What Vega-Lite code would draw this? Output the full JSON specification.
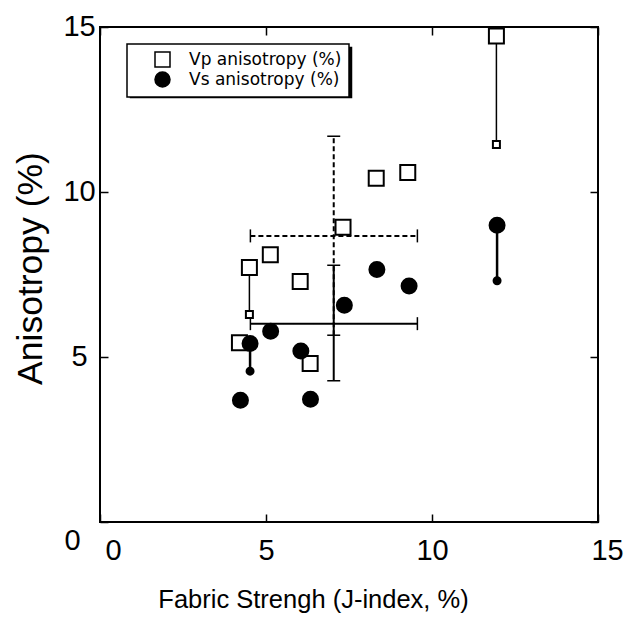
{
  "$schema": "https://vega.github.io/schema/vega-lite/v6.json",
  "width": 498,
  "height": 495,
  "autosize": {"type": "none"},
  "padding": {"left": 100, "top": 27, "right": 35, "bottom": 96},
  "background": "white",
  "datasets": {
    "points": [
      {"series": "Vp anisotropy (%)", "x": 4.20, "y": 5.43, "kind": "main"},
      {"series": "Vp anisotropy (%)", "x": 4.50, "y": 7.71, "kind": "main", "pair": "p1"},
      {"series": "Vp anisotropy (%)", "x": 4.50, "y": 6.29, "kind": "end", "pair": "p1"},
      {"series": "Vp anisotropy (%)", "x": 5.13, "y": 8.10, "kind": "main"},
      {"series": "Vp anisotropy (%)", "x": 6.03, "y": 7.29, "kind": "main"},
      {"series": "Vp anisotropy (%)", "x": 6.33, "y": 4.80, "kind": "main"},
      {"series": "Vp anisotropy (%)", "x": 7.32, "y": 8.93, "kind": "main"},
      {"series": "Vp anisotropy (%)", "x": 8.32, "y": 10.42, "kind": "main"},
      {"series": "Vp anisotropy (%)", "x": 9.27, "y": 10.59, "kind": "main"},
      {"series": "Vp anisotropy (%)", "x": 11.94, "y": 14.73, "kind": "main", "pair": "p2"},
      {"series": "Vp anisotropy (%)", "x": 11.94, "y": 11.44, "kind": "end", "pair": "p2"},
      {"series": "Vs anisotropy (%)", "x": 4.23, "y": 3.69, "kind": "main"},
      {"series": "Vs anisotropy (%)", "x": 4.52, "y": 5.41, "kind": "main", "pair": "s1"},
      {"series": "Vs anisotropy (%)", "x": 4.52, "y": 4.57, "kind": "end", "pair": "s1"},
      {"series": "Vs anisotropy (%)", "x": 5.14, "y": 5.78, "kind": "main"},
      {"series": "Vs anisotropy (%)", "x": 6.05, "y": 5.18, "kind": "main"},
      {"series": "Vs anisotropy (%)", "x": 6.34, "y": 3.72, "kind": "main"},
      {"series": "Vs anisotropy (%)", "x": 7.36, "y": 6.57, "kind": "main"},
      {"series": "Vs anisotropy (%)", "x": 8.34, "y": 7.65, "kind": "main"},
      {"series": "Vs anisotropy (%)", "x": 9.31, "y": 7.15, "kind": "main"},
      {"series": "Vs anisotropy (%)", "x": 11.96, "y": 8.99, "kind": "main", "pair": "s2"},
      {"series": "Vs anisotropy (%)", "x": 11.96, "y": 7.31, "kind": "end", "pair": "s2"}
    ],
    "bars": [
      {"style": "solid", "cx": 7.04, "cy": 6.01, "xlo": 4.53, "xhi": 9.56, "ylo": 4.28, "yhi": 7.78},
      {"style": "dashed", "cx": 7.04, "cy": 8.67, "xlo": 4.53, "xhi": 9.56, "ylo": 5.66, "yhi": 11.69}
    ]
  },
  "config": {
    "view": {"stroke": "black", "strokeWidth": 2},
    "axis": {
      "grid": false,
      "domain": false,
      "tickColor": "black",
      "tickWidth": 1.5,
      "tickSize": -8,
      "labelFlush": false,
      "labelColor": "black",
      "labelFont": "Liberation Sans",
      "labelFontSize": 29,
      "titleColor": "black",
      "titleFontWeight": "normal"
    },
    "legend": {
      "orient": "none",
      "padding": 7,
      "symbolOffset": 20,
      "labelOffset": 18,
      "rowPadding": -1,
      "labelFont": "DejaVu Sans",
      "labelFontSize": 17,
      "labelColor": "black",
      "symbolSize": 225,
      "strokeWidth": 1.5
    }
  },
  "layer": [
    {
      "data": {"name": "bars"},
      "mark": {"type": "rule", "strokeWidth": 2, "color": "black"},
      "encoding": {
        "x": {"field": "xlo", "type": "quantitative", "scale": {"domain": [0, 15], "nice": false},
              "axis": {"orient": "top", "labels": false, "values": [0, 5, 10, 15], "title": null}},
        "x2": {"field": "xhi"},
        "y": {"field": "cy", "type": "quantitative", "scale": {"domain": [0, 15], "nice": false},
              "axis": {"orient": "right", "labels": false, "values": [0, 5, 10, 15], "title": null}},
        "strokeDash": {"field": "style", "type": "nominal",
                       "scale": {"domain": ["solid", "dashed"], "range": [[1, 0], [5, 3]]}, "legend": null}
      }
    },
    {
      "data": {"name": "bars"},
      "mark": {"type": "rule", "strokeWidth": 2, "color": "black"},
      "encoding": {
        "x": {"field": "cx", "type": "quantitative", "axis": null},
        "y": {"field": "ylo", "type": "quantitative", "axis": null},
        "y2": {"field": "yhi"},
        "strokeDash": {"field": "style", "type": "nominal",
                       "scale": {"domain": ["solid", "dashed"], "range": [[1, 0], [5, 3]]}, "legend": null}
      }
    },
    {
      "data": {"name": "bars"},
      "transform": [{"fold": ["xlo", "xhi"], "as": ["end", "xv"]}],
      "mark": {"type": "tick", "orient": "vertical", "size": 13, "thickness": 1.5, "color": "black", "opacity": 1},
      "encoding": {
        "x": {"field": "xv", "type": "quantitative", "axis": null},
        "y": {"field": "cy", "type": "quantitative", "axis": null}
      }
    },
    {
      "data": {"name": "bars"},
      "transform": [{"fold": ["ylo", "yhi"], "as": ["end", "yv"]}],
      "mark": {"type": "tick", "orient": "horizontal", "size": 13, "thickness": 1.5, "color": "black", "opacity": 1},
      "encoding": {
        "x": {"field": "cx", "type": "quantitative", "axis": null},
        "y": {"field": "yv", "type": "quantitative", "axis": null}
      }
    },
    {
      "data": {"name": "points"},
      "transform": [{"filter": "isValid(datum.pair)"}],
      "mark": {"type": "line", "color": "black"},
      "encoding": {
        "x": {"field": "x", "type": "quantitative", "axis": null},
        "y": {"field": "y", "type": "quantitative", "axis": null},
        "detail": {"field": "pair", "type": "nominal"},
        "strokeWidth": {"field": "series", "type": "nominal", "scale": {"range": [1.5, 2.5]}, "legend": null}
      }
    },
    {
      "data": {"name": "points"},
      "mark": {"type": "point", "filled": true, "stroke": "black", "strokeWidth": 2, "opacity": 1},
      "encoding": {
        "x": {"field": "x", "type": "quantitative",
              "axis": {"orient": "bottom", "values": [0, 5, 10, 15], "title": "Fabric Strengh (J-index, %)",
                       "titleFont": "Liberation Sans", "titleFontSize": 25.5,
                       "titleX": 213, "titleY": 85, "titleBaseline": "alphabetic", "titleAlign": "center",
                       "labelBaseline": "top", "labelPadding": 22,
                       "labelOffset": {"condition": [{"test": "datum.value === 0", "value": 13}, {"test": "datum.value === 15", "value": 9}], "value": 0}}},
        "y": {"field": "y", "type": "quantitative",
              "axis": {"orient": "left", "values": [0, 5, 10, 15], "title": "Anisotropy (%)",
                       "titleFont": "Liberation Sans", "titleFontSize": 35.5,
                       "titleX": -59, "titleY": 241, "titleBaseline": "alphabetic", "titleAlign": "center", "titleAngle": -90,
                       "labelAlign": "center", "labelBaseline": "middle",
                       "labelPadding": {"condition": {"test": "datum.value === 0", "value": 36}, "value": 29},
                       "labelOffset": {"condition": {"test": "datum.value === 0", "value": 18}, "value": -1}}},
        "shape": {"field": "series", "type": "nominal", "scale": {"range": ["square", "circle"]},
                  "legend": {"title": null, "legendX": 27, "legendY": 17, "fillColor": "white", "strokeColor": "black", "zindex": 1,
                             "encode": {"symbols": {"update": {"stroke": {"value": "black"}, "strokeWidth": {"value": 1.5}, "opacity": {"value": 1}}}}}},
        "fill": {"field": "series", "type": "nominal", "scale": {"range": ["white", "black"]},
                 "legend": {"title": null, "legendX": 27, "legendY": 17, "fillColor": "white", "strokeColor": "black", "zindex": 1,
                            "encode": {"symbols": {"update": {"stroke": {"value": "black"}, "strokeWidth": {"value": 1.5}, "opacity": {"value": 1}}}}}},
        "size": {"field": "kind", "type": "nominal", "scale": {"domain": ["main", "end"], "range": [225, 49]},
                 "legend": {"title": null, "legendX": 30.5, "legendY": 20.5, "fillColor": "black", "strokeColor": "black",
                            "zindex": 0, "labelExpr": "''", "labelOffset": 170,
                            "encode": {"symbols": {"update": {"fill": {"value": "black"}, "stroke": {"value": "black"}, "strokeWidth": {"value": 1.5}, "size": {"value": 342}, "shape": {"value": "square"}, "opacity": {"value": 1}}}}}}
      }
    }
  ]
}
